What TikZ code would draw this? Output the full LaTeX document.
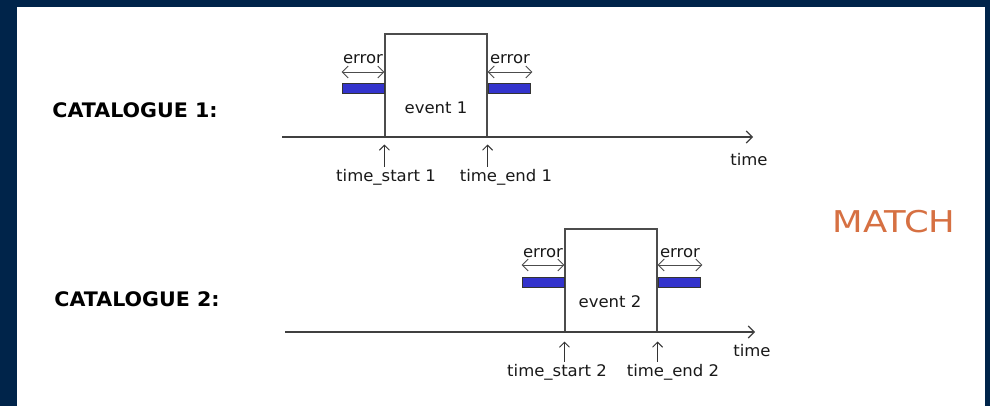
\documentclass[tikz,border=0pt]{standalone}
\usepackage{fontspec}
\setmainfont[FakeStretch=1.03]{DejaVu Sans}
\newfontfamily\matchfont[FakeStretch=1.18]{DejaVu Sans}
\usetikzlibrary{arrows.meta}
\definecolor{navy}{RGB}{0,36,74}
\definecolor{barblue}{RGB}{51,51,204}
\definecolor{matchorange}{RGB}{214,112,66}

\begin{document}
\begin{tikzpicture}[x=1pt, y=1pt,
  eventbox/.style={rectangle, draw=black!70, line width=1.2pt, minimum height=103pt, inner sep=0pt},
  errbar/.style={rectangle, draw=black!80, fill=barblue, line width=0.8pt, minimum width=42pt, minimum height=10pt, inner sep=0pt},
  errarrow/.style={{Straight Barb[length=6pt,width=12pt]}-{Straight Barb[length=6pt,width=12pt]}, black!70, line width=0.9pt},
  axisarrow/.style={-{Straight Barb[length=6pt,width=12pt]}, black!75, line width=1.1pt},
  tickarrow/.style={-{Straight Barb[length=5pt,width=10pt]}, black!80, line width=0.9pt},
  lbl/.style={font=\fontsize{16}{18}\selectfont, text=black!90, inner sep=0pt},
  catlbl/.style={font=\fontsize{20}{22}\selectfont\bfseries, inner sep=0pt}]
  % frame
  \fill[navy] (0,0) rectangle (990,406);
  \fill[white] (17,0) rectangle (985,399);

  % first catalogue
  \node[catlbl] (cat1) at (135,296) {CATALOGUE 1:};
  \node[eventbox, minimum width=102pt] (ev1) at (436,320.5) {};
  \node[lbl] (ev1txt) at (436,298) {event 1};
  \coordinate (t1in) at (282,269);
  \coordinate (t1out) at (753,269);
  \draw[axisarrow] (t1in) -- (t1out);
  \node[lbl] (time1) at (749,246) {time};
  \node[errbar, anchor=east] (bar1l) at (ev1.west |- 0,317.5) {};
  \node[errbar, anchor=west] (bar1r) at (ev1.east |- 0,317.5) {};
  \draw[errarrow] (bar1l.west |- 0,334) -- node[lbl, above=8pt] (err1l) {error} (ev1.west |- 0,334);
  \draw[errarrow] (ev1.east |- 0,334) -- node[lbl, above=8pt] (err1r) {error} ([xshift=2pt]bar1r.east |- 0,334);
  \node[lbl] (start1) at (386,229) {time\_start 1};
  \node[lbl] (end1) at (506,229) {time\_end 1};
  \draw[tickarrow] (ev1.south west |- 0,239) -- ([yshift=-7pt]ev1.south west);
  \draw[tickarrow] (ev1.south east |- 0,239) -- ([yshift=-7pt]ev1.south east);

  % second catalogue
  \node[catlbl] (cat2) at (137,107) {CATALOGUE 2:};
  \node[eventbox, minimum width=92pt] (ev2) at (611,125.5) {};
  \node[lbl] (ev2txt) at (610,104) {event 2};
  \coordinate (t2in) at (285,74);
  \coordinate (t2out) at (755,74);
  \draw[axisarrow] (t2in) -- (t2out);
  \node[lbl] (time2) at (752,55) {time};
  \node[errbar, anchor=east] (bar2l) at (ev2.west |- 0,123.5) {};
  \node[errbar, anchor=west] (bar2r) at (ev2.east |- 0,123.5) {};
  \draw[errarrow] (bar2l.west |- 0,141) -- node[lbl, above=7pt] (err2l) {error} (ev2.west |- 0,141);
  \draw[errarrow] (ev2.east |- 0,141) -- node[lbl, above=7pt] (err2r) {error} ([xshift=2pt]bar2r.east |- 0,141);
  \node[lbl] (start2) at (557,34) {time\_start 2};
  \node[lbl] (end2) at (673,34) {time\_end 2};
  \draw[tickarrow] (ev2.south west |- 0,44) -- ([yshift=-9pt]ev2.south west);
  \draw[tickarrow] (ev2.south east |- 0,44) -- ([yshift=-9pt]ev2.south east);

  \node[font=\matchfont\fontsize{30}{32}\selectfont, text=matchorange, inner sep=0pt] (match) at (894,184) {MATCH};
\end{tikzpicture}
\end{document}
